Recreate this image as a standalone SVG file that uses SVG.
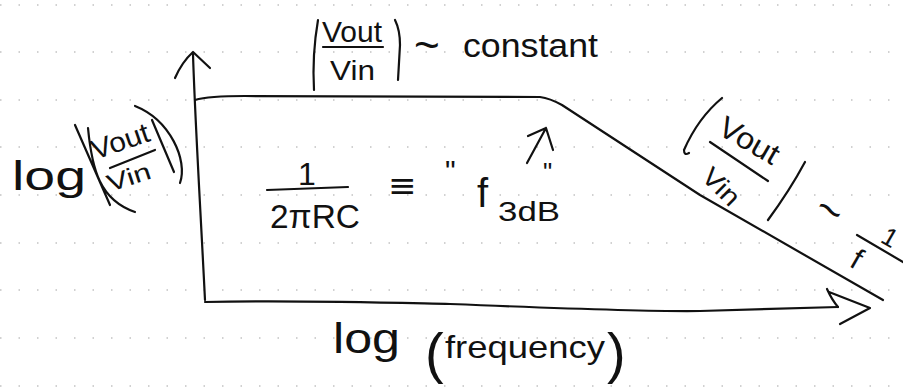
<svg xmlns="http://www.w3.org/2000/svg" width="903" height="392" viewBox="0 0 903 392">
<style>
.ink{fill:none;stroke:#111;stroke-width:2.2;stroke-linecap:round;stroke-linejoin:round}
.t{font-family:"Liberation Sans","DejaVu Sans",sans-serif;fill:#111}
.dots{fill:none;stroke:#999;stroke-width:1.3;stroke-dasharray:1.5 17;opacity:0.6}
</style>
<rect width="903" height="392" fill="#fff"/>
<g id="paper">
<path class="dots" d="M0,5H903M0,52H903M0,100H903M0,147H903M0,195H903M0,243H903M0,290H903M0,338H903M0,386H903"/>
</g>
<g id="connectors">
<path id="y-axis" class="ink" d="M193,54 C195,120 200,200 205,300"/>
<path class="ink" d="M175,78 Q182,62 193,52 L210,68"/>
<path id="x-axis" class="ink" d="M205,302 C300,300 400,303 450,304 C550,308 650,312 700,311 C760,309 800,308 838,307"/>
<path class="ink" d="M827,289 Q832,300 838,307 M829,292 L870,308 L840,324"/>
<path id="response" class="ink" d="M195,100 C205,97 220,96 245,96 L540,97 C548,98 553,100 562,105 L700,195 L883,300"/>
</g>
<g id="label-top">
<path class="ink" d="M318,20 Q312,55 314,90 M395,20 Q400,30 400,45 L398,80 M323,47 L383,47"/>
<text class="t" x="322" y="42" font-size="30" textLength="60" lengthAdjust="spacingAndGlyphs">Vout</text>
<text class="t" x="330" y="80" font-size="27" textLength="45" lengthAdjust="spacingAndGlyphs">Vin</text>
<text class="t" x="414" y="60" font-size="44">~</text>
<text class="t" x="463" y="57" font-size="33" textLength="135" lengthAdjust="spacingAndGlyphs">constant</text>
</g>
<g id="label-y">
<text class="t" x="12" y="190" font-size="40" textLength="74" lengthAdjust="spacingAndGlyphs">log</text>
<path class="ink" d="M75,125 L110,205 M88,128 C92,170 100,200 135,212 M152,120 L174,172 M135,106 C170,120 188,160 180,183 M110,168 L155,150"/>
<text class="t" x="95" y="160" font-size="28" textLength="60" lengthAdjust="spacingAndGlyphs" transform="rotate(-19 95 160)">Vout</text>
<text class="t" x="110" y="192" font-size="24" textLength="45" lengthAdjust="spacingAndGlyphs" transform="rotate(-18 110 192)">Vin</text>
</g>
<g id="label-f3db">
<text class="t" x="298" y="185" font-size="32">1</text>
<path class="ink" d="M267,190 L348,187"/>
<text class="t" x="270" y="228" font-size="34" textLength="90" lengthAdjust="spacingAndGlyphs">2πRC</text>
<text class="t" x="388" y="197" font-size="34" style="font-family:'DejaVu Sans',sans-serif">≡</text>
<text class="t" x="445" y="181" font-size="30">"</text>
<text class="t" x="477" y="207" font-size="40">f</text>
<text class="t" x="498" y="221" font-size="28" textLength="62" lengthAdjust="spacingAndGlyphs">3dB</text>
<text class="t" x="543" y="181" font-size="26">"</text>
<path class="ink" d="M527,163 L546,128 M528,136 L546,128 L553,150"/>
</g>
<g id="label-slope">
<path class="ink" d="M722,98 Q698,118 684,150 Q684,156 689,153 M710,142 L768,181 M805,162 Q790,190 768,220 M857,235 L903,262"/>
<text class="t" x="716" y="133" font-size="30" textLength="65" lengthAdjust="spacingAndGlyphs" transform="rotate(30 716 133)">Vout</text>
<text class="t" x="700" y="178" font-size="26" textLength="42" lengthAdjust="spacingAndGlyphs" transform="rotate(45 700 178)">Vin</text>
<text class="t" x="817" y="225" font-size="44" transform="rotate(30 830 210)">~</text>
<text class="t" x="884" y="246" font-size="26" transform="rotate(30 890 235)">1</text>
<text class="t" x="852" y="272" font-size="30" transform="rotate(30 862 262)">f</text>
</g>
<g id="label-x">
<text class="t" x="333" y="353" font-size="42" textLength="67" lengthAdjust="spacingAndGlyphs">log</text>
<text class="t" x="425" y="372" font-size="56">(</text>
<text class="t" x="445" y="358" font-size="32" textLength="160" lengthAdjust="spacingAndGlyphs">frequency</text>
<text class="t" x="607" y="372" font-size="56">)</text>
</g>
</svg>
